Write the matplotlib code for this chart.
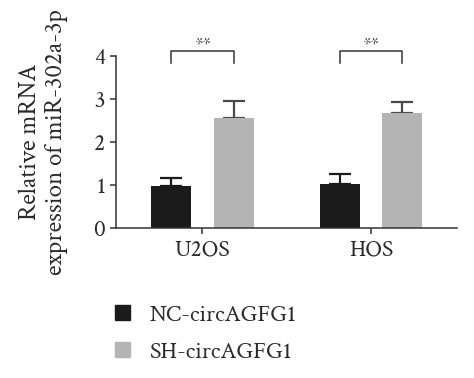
import matplotlib
matplotlib.use('Agg')
import matplotlib.pyplot as plt
import matplotlib.patches as mpatches
import numpy as np

plt.rcParams['font.family'] = ['Crimson Text', 'Liberation Serif', 'DejaVu Serif']

cell_lines = ['U2OS', 'HOS']
groups = ['NC-circAGFG1', 'SH-circAGFG1']
nc_mean = [0.98, 1.03]
nc_err = [0.18, 0.22]
sh_mean = [2.55, 2.68]
sh_err = [0.40, 0.24]
signif = ['**', '**']

colors = ['#1b1b1b', '#b4b4b4']
err_colors = ['#1b1b1b', '#4a4a4a']

fig = plt.figure(figsize=(4.74, 3.78), dpi=100)
ax = fig.add_axes([0.245, 0.397, 0.719, 0.455])

x = np.arange(len(cell_lines))
offset = 0.186
width = 0.237

for i, (means, errs) in enumerate([(nc_mean, nc_err), (sh_mean, sh_err)]):
    pos = x + (i * 2 - 1) * offset
    ax.bar(pos, means, width, color=colors[i], zorder=2)
    ax.errorbar(pos, means, yerr=[np.zeros(len(errs)), errs], fmt='none',
                ecolor=err_colors[i], elinewidth=1.6, capsize=8, capthick=1.6, zorder=1)

# significance brackets
for xi, star in zip(x, signif):
    x1, x2 = xi - offset, xi + offset
    ax.plot([x1, x1, x2, x2], [3.84, 4.12, 4.12, 3.84], color='#333333', lw=1.1, clip_on=False)
    ax.text(xi, 4.16, star, ha='center', va='baseline', fontsize=14, color='#333333')

ax.set_xlim(-0.51, 1.51)
ax.set_ylim(0, 4)
ax.set_yticks([0, 1, 2, 3, 4])
ax.set_xticks(x)
ax.set_xticklabels(cell_lines)
ax.tick_params(labelsize=17, length=4, width=1.1, color='#333333', labelcolor='#2a2a2a', pad=4)
ax.spines['top'].set_visible(False)
ax.spines['right'].set_visible(False)
for s in ['left', 'bottom']:
    ax.spines[s].set_linewidth(1.1)
    ax.spines[s].set_color('#333333')

ax.set_ylabel('Relative mRNA\nexpression of miR-302a-3p', fontsize=18, color='#2a2a2a',
              linespacing=1.1)
ax.yaxis.set_label_coords(-0.141, 0.5)

handles = [mpatches.Patch(color=c) for c in colors]
leg = fig.legend(handles, groups, loc='upper left', bbox_to_anchor=(0.243, 0.194),
                 frameon=False, fontsize=17.3, handlelength=0.62, handleheight=0.62,
                 handletextpad=0.8, labelspacing=0.65, borderpad=0, borderaxespad=0)
for t in leg.get_texts():
    t.set_color('#2a2a2a')

fig.savefig('out.png', dpi=100)
